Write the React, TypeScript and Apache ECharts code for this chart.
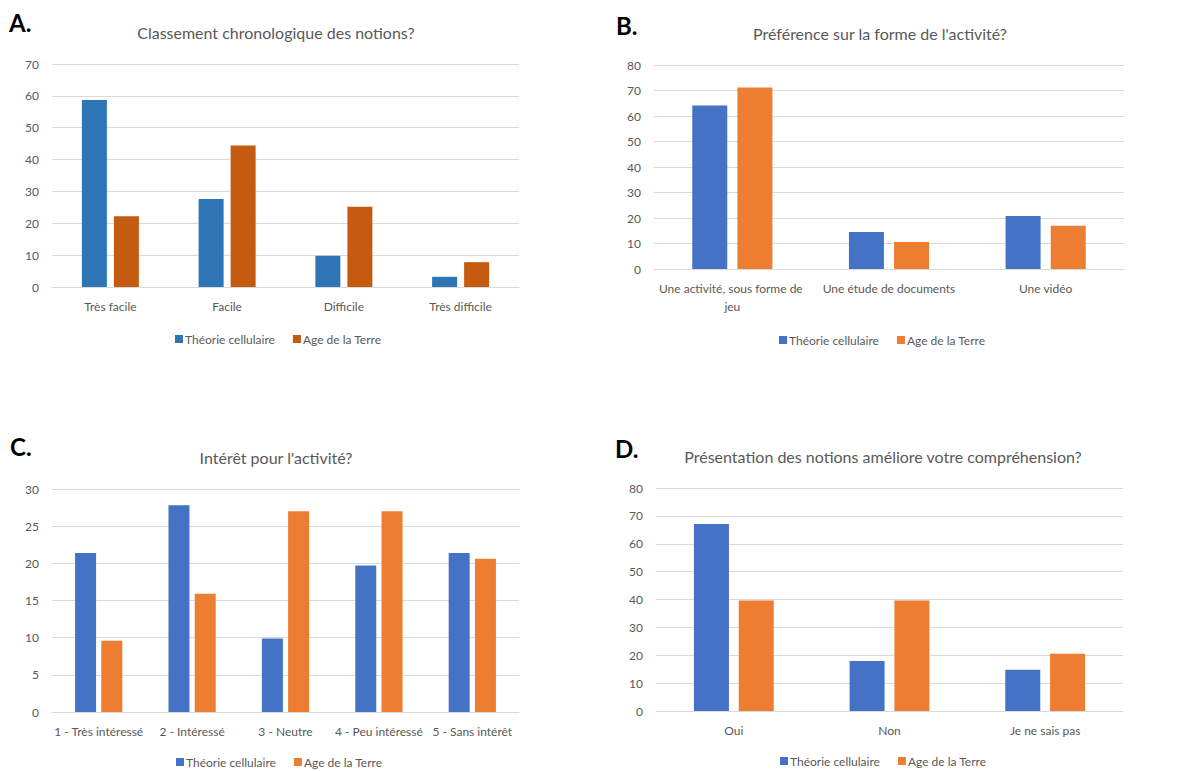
import React, { useEffect, useRef } from "react";
import * as echarts from "echarts";

const seriesNames = ["Théorie cellulaire", "Age de la Terre"];

// A
const titleA = "Classement chronologique des notions?";
const catsA = ["Très facile", "Facile", "Difficile", "Très difficile"];
const theorieA = [58.7, 27.6, 9.8, 3.2];
const terreA = [22.2, 44.4, 25.2, 7.8];
const maxA = 70;
const stepA = 10;

// B
const titleB = "Préférence sur la forme de l'activité?";
const catsB = ["Une activité, sous forme de jeu", "Une étude de documents", "Une vidéo"];
const theorieB = [64.1, 14.5, 20.8];
const terreB = [71.2, 10.6, 17.0];
const maxB = 80;
const stepB = 10;

// C
const titleC = "Intérêt pour l'activité?";
const catsC = ["1 - Très intéressé", "2 - Intéressé", "3 - Neutre", "4 - Peu intéressé", "5 - Sans intérêt"];
const theorieC = [21.4, 27.8, 9.9, 19.7, 21.4];
const terreC = [9.6, 15.9, 27.0, 27.0, 20.6];
const maxC = 30;
const stepC = 5;

// D
const titleD = "Présentation des notions améliore votre compréhension?";
const catsD = ["Oui", "Non", "Je ne sais pas"];
const theorieD = [67.1, 17.9, 14.8];
const terreD = [39.6, 39.6, 20.5];
const maxD = 80;
const stepD = 10;

const FONT = "Lato, 'Noto Sans', sans-serif";
const GREY = "#595959";
const GRID = "#d9d9d9";

function buildOption(p: any) {
  const xLabel: any = {
    color: GREY,
    fontSize: 12,
    fontFamily: FONT,
    margin: 10,
    interval: 0,
    lineHeight: 18,
  };
  if (p.labelWidth) {
    xLabel.width = p.labelWidth;
    xLabel.overflow = "break";
  }
  return {
    animation: false,
    textStyle: { fontFamily: FONT },
    graphic: [
      {
        type: "text",
        x: p.letterX,
        y: p.letterY,
        style: { text: p.letter, font: `bold 24px ${FONT}`, fill: "#000" },
      },
      {
        type: "text",
        x: p.titleX,
        y: p.titleY,
        style: {
          text: p.title,
          font: `16px ${FONT}`,
          fill: GREY,
          textAlign: "center",
          textVerticalAlign: "middle",
        },
      },
    ],
    legend: {
      left: p.legendLeft,
      top: p.legendTop,
      padding: 0,
      itemWidth: 8,
      itemHeight: 8,
      itemGap: 18,
      icon: "rect",
      textStyle: { color: GREY, fontSize: 12, fontFamily: FONT, padding: [0, 0, 0, -3] },
      data: seriesNames,
    },
    grid: { left: p.grid[0], top: p.grid[1], width: p.grid[2], height: p.grid[3] },
    xAxis: {
      type: "category",
      data: p.cats,
      axisLine: { lineStyle: { color: GRID } },
      axisTick: { show: false },
      axisLabel: xLabel,
    },
    yAxis: {
      type: "value",
      min: 0,
      max: p.max,
      interval: p.step,
      axisLine: { show: false },
      axisTick: { show: false },
      axisLabel: { color: GREY, fontSize: 12, fontFamily: FONT, margin: 13 },
      splitLine: { lineStyle: { color: GRID } },
    },
    series: [
      {
        name: seriesNames[0],
        type: "bar",
        data: p.a,
        barWidth: p.barWidth,
        barGap: p.barGap,
        itemStyle: { color: p.colors[0] },
      },
      {
        name: seriesNames[1],
        type: "bar",
        data: p.b,
        barWidth: p.barWidth,
        barGap: p.barGap,
        itemStyle: { color: p.colors[1] },
      },
    ],
  };
}

function Panel({ left, top, width, height, option }: any) {
  const ref = useRef<HTMLDivElement>(null);
  useEffect(() => {
    if (!ref.current) return;
    const chart = echarts.init(ref.current, undefined, { renderer: "svg" });
    chart.setOption(option);
    return () => chart.dispose();
  }, []);
  return <div ref={ref} style={{ position: "absolute", left, top, width, height }} />;
}

export default function App() {
  const optA = buildOption({
    letter: "A.", letterX: 9, letterY: 10, title: titleA, titleX: 276, titleY: 32,
    cats: catsA, a: theorieA, b: terreA, max: maxA, step: stepA,
    grid: [52, 64, 467, 223], colors: ["#2E75B6", "#C55A11"], barWidth: 25, barGap: "28%",
    legendLeft: 175, legendTop: 333,
  });
  const optB = buildOption({
    letter: "B.", letterX: 19, letterY: 13, title: titleB, titleX: 283, titleY: 33,
    cats: catsB, a: theorieB, b: terreB, max: maxB, step: stepB,
    grid: [57, 65, 470, 204], colors: ["#4472C4", "#ED7D31"], barWidth: 35, barGap: "29%",
    legendLeft: 182, legendTop: 334, labelWidth: 158,
  });
  const optC = buildOption({
    letter: "C.", letterX: 10, letterY: 49, title: titleC, titleX: 276, titleY: 72,
    cats: catsC, a: theorieC, b: terreC, max: maxC, step: stepC,
    grid: [52, 104, 467, 223], colors: ["#4472C4", "#ED7D31"], barWidth: 21, barGap: "25%",
    legendLeft: 176, legendTop: 371,
  });
  const optD = buildOption({
    letter: "D.", letterX: 18, letterY: 51, title: titleD, titleX: 286, titleY: 71,
    cats: catsD, a: theorieD, b: terreD, max: maxD, step: stepD,
    grid: [59, 103, 467, 223], colors: ["#4472C4", "#ED7D31"], barWidth: 35, barGap: "28%",
    legendLeft: 183, legendTop: 370,
  });
  return (
    <div style={{ position: "absolute", left: 0, top: 0, width: 1194, height: 771, background: "#fff" }}>
      <Panel left={0} top={0} width={597} height={385} option={optA} />
      <Panel left={597} top={0} width={597} height={385} option={optB} />
      <Panel left={0} top={385} width={597} height={386} option={optC} />
      <Panel left={597} top={385} width={597} height={386} option={optD} />
    </div>
  );
}
